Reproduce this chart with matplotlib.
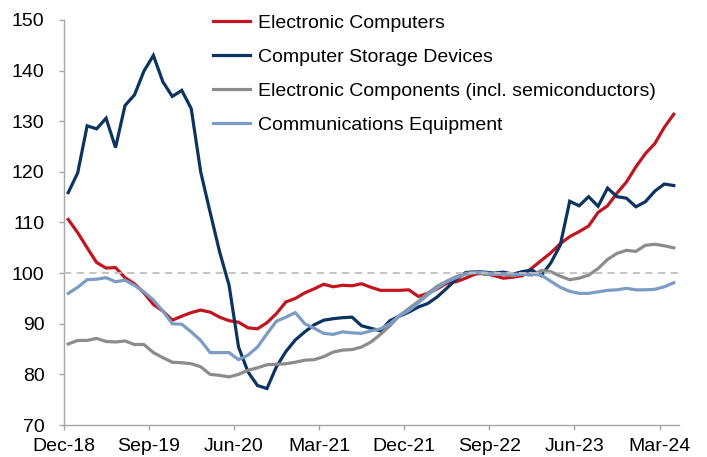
import numpy as np
import matplotlib
matplotlib.use("Agg")
import matplotlib.pyplot as plt

plt.rcParams['font.family'] = ['Liberation Sans', 'DejaVu Sans']

months = ["Dec-18", "Sep-19", "Jun-20", "Mar-21", "Dec-21", "Sep-22", "Jun-23", "Mar-24"]
tick_index = [0, 9, 18, 27, 36, 45, 54, 63]

computers = [110.6, 108.0, 105.0, 102.1, 101.0, 101.1, 99.1, 97.9, 96.1, 93.8,
             92.5, 90.7, 91.5, 92.2, 92.7, 92.3, 91.3, 90.6, 90.3, 89.2,
             89.0, 90.2, 92.0, 94.3, 95.0, 96.1, 96.9, 97.8, 97.3, 97.6,
             97.5, 97.9, 97.2, 96.6, 96.6, 96.6, 96.7, 95.4, 96.0, 96.9,
             98.0, 98.3, 99.0, 99.8, 100.0, 99.5, 99.0, 99.2, 99.5, 101.0,
             102.5, 104.0, 105.8, 107.2, 108.2, 109.3, 112.0, 113.3, 115.8, 118.0,
             121.0, 123.6, 125.6, 128.8, 131.4]

storage = [115.9, 119.8, 129.1, 128.5, 130.6, 124.8, 133.1, 135.2, 139.9, 143.0,
           137.8, 134.9, 136.1, 132.5, 120.0, 112.0, 104.2, 97.6, 85.4, 80.5,
           77.8, 77.2, 81.5, 84.5, 86.8, 88.4, 89.8, 90.7, 91.0, 91.2,
           91.3, 89.6, 89.1, 88.6, 90.6, 91.5, 92.3, 93.3, 94.0, 95.3,
           97.0, 98.8, 100.1, 100.3, 100.2, 100.0, 100.2, 99.8, 100.3, 100.6,
           99.5, 102.0, 105.5, 114.2, 113.3, 115.1, 113.2, 116.8, 115.1, 114.8,
           113.1, 114.1, 116.2, 117.6, 117.3]

components = [86.0, 86.7, 86.7, 87.1, 86.5, 86.4, 86.6, 85.9, 85.9, 84.3,
              83.3, 82.4, 82.3, 82.1, 81.5, 80.0, 79.8, 79.5, 80.0, 80.8,
              81.3, 81.9, 82.0, 82.1, 82.4, 82.8, 82.9, 83.5, 84.4, 84.8,
              84.9, 85.4, 86.4, 87.9, 89.6, 91.6, 93.0, 94.4, 96.0, 97.4,
              98.4, 99.3, 99.9, 100.3, 99.7, 99.8, 99.8, 99.5, 99.8, 99.6,
              100.5, 100.3, 99.4, 98.7, 99.0, 99.6, 100.9, 102.7, 103.9, 104.5,
              104.3, 105.5, 105.7, 105.4, 105.0]

communications = [96.0, 97.2, 98.7, 98.8, 99.1, 98.3, 98.6, 97.6, 96.3, 94.7,
                  92.5, 90.0, 89.9, 88.4, 86.7, 84.3, 84.3, 84.3, 82.9, 83.8,
                  85.4, 88.0, 90.5, 91.3, 92.2, 90.0, 89.1, 88.1, 87.9, 88.4,
                  88.2, 88.1, 88.6, 89.0, 90.0, 91.6, 92.6, 94.1, 95.7, 97.1,
                  98.3, 99.1, 99.8, 100.1, 100.1, 99.8, 99.9, 99.8, 99.8, 99.8,
                  99.6, 98.4, 97.2, 96.4, 96.0, 96.0, 96.3, 96.6, 96.7, 97.0,
                  96.7, 96.7, 96.8, 97.3, 98.1]

series = [
    ("Electronic Computers", computers, "#C0161F"),
    ("Computer Storage Devices", storage, "#0B3560"),
    ("Electronic Components (incl. semiconductors)", components, "#8C8C8C"),
    ("Communications Equipment", communications, "#7C9CC4"),
]

W, H = 707, 457
fig = plt.figure(figsize=(W / 100, H / 100), dpi=100)
left, right, top, bottom = 63.5, 678.5, 20, 425
ax = fig.add_axes([left / W, 1 - bottom / H, (right - left) / W, (bottom - top) / H])

n = len(computers)
x = np.arange(n) + 0.5
for name, vals, col in series:
    ax.plot(x, vals, color=col, lw=2.3, label=name, solid_joinstyle='miter')

ax.axhline(100, color="#BFBFBF", lw=1.3, ls=(0, (4, 3)), zorder=5)

ax.set_xlim(0, n)
ax.set_ylim(70, 150)
ax.set_yticks(range(70, 151, 10))
ax.set_xticks(tick_index)
ax.set_xticklabels(months)

for s in ["top", "right"]:
    ax.spines[s].set_visible(False)
for s in ["left", "bottom"]:
    ax.spines[s].set_color("#A6A6A6")
    ax.spines[s].set_linewidth(1.0)
ax.tick_params(axis="both", colors="#A6A6A6", labelcolor="black", labelsize=14,
               direction="out", length=3.6, width=1.0)
ax.tick_params(axis="y", pad=10)
ax.tick_params(axis="x", pad=6)

leg = ax.legend(loc="upper left", bbox_to_anchor=((205 - left) / (right - left), 1.034),
                frameon=False, fontsize=14, handlelength=1.9, handletextpad=0.45,
                labelspacing=0.85, borderaxespad=0)

fig.savefig("out.png", dpi=100)
